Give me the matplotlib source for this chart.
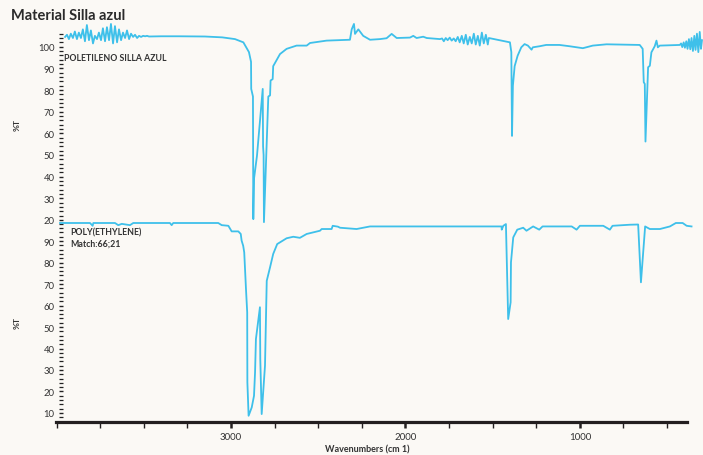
import matplotlib.pyplot as plt
from matplotlib.ticker import MultipleLocator, FixedLocator

plt.rcParams['font.family'] = ['Lato', 'DejaVu Sans']

# sample spectrum (POLETILENO SILLA AZUL), wavenumber vs %T
sample_wn = [3951, 3940, 3929, 3918, 3906, 3895, 3883, 3872, 3860, 3849, 3837, 3826,
             3814, 3803, 3791, 3780, 3768, 3757, 3745, 3734, 3722, 3711, 3699, 3688,
             3676, 3665, 3653, 3642, 3630, 3619, 3607, 3596, 3584, 3573, 3561, 3550,
             3538, 3527, 3515, 3504, 3492, 3481, 3470,
             3400, 3300, 3150, 3050, 2977, 2929, 2897, 2885, 2884, 2874, 2872, 2868,
             2851, 2818, 2816, 2813, 2811, 2786, 2776, 2773, 2761, 2758, 2719, 2681,
             2624, 2566, 2547, 2452, 2318, 2308, 2295, 2289, 2270, 2242, 2203, 2146,
             2108, 2079, 2050, 1974, 1955, 1936, 1898, 1878, 1802,
             1790, 1780, 1769, 1758, 1746, 1735, 1723, 1712, 1700, 1689, 1677, 1666,
             1654, 1643, 1631, 1620, 1608, 1597, 1585, 1574, 1562, 1551, 1539, 1528,
             1522, 1401, 1393, 1389, 1384, 1374, 1357, 1336, 1317, 1298, 1277, 1270,
             1231, 1193, 1117, 1059, 983, 926, 847, 657, 640, 634, 628, 624, 609, 599,
             590, 571, 561, 553, 542, 427,
             420, 413, 405, 398, 390, 383, 375, 367, 360, 352, 344, 337, 329, 321,
             313, 306, 300]
sample_t = [104.5, 105.5, 103.5, 106, 104, 107, 103.5, 106.5, 104, 108, 102.5, 110,
            103, 107.5, 101.5, 105, 103.5, 106.5, 103, 108.5, 102.5, 109, 103, 110.5,
            101.5, 109.5, 102, 108, 103, 106.5, 104, 107.5, 103.5, 106, 104.5, 105.5,
            104, 105, 104.5, 105, 104.8, 105, 104.7,
            104.8, 104.8, 104.7, 104.3, 103.5, 102, 97.5, 93, 80.5, 77, 20.4, 39,
            49.6, 80.5, 54, 50, 19, 77, 77.5, 84.4, 85, 91, 96.6, 99,
            100.5, 100.5, 101.7, 102.8, 103.2, 108, 110.5, 105.9, 108, 105, 103.2, 103.5,
            103.9, 105.9, 104, 104.2, 105, 104, 104.6, 104, 103.5,
            103.8, 102.5, 104, 103, 104.2, 102.8, 103.8, 102.5, 104.5, 102, 105, 101.5,
            105.5, 101, 104.5, 101.5, 106, 101, 105, 100.5, 106.5, 101.5, 105.5, 101,
            104, 102, 97.5, 58.8, 82, 91, 95.8, 99.7, 101.2, 100.5, 98.6, 99.7,
            100.2, 100.8, 100.8, 100.2, 99.3, 100.5, 101.1, 100.8, 99, 83.6, 82.8, 56.2, 90.5, 91.2,
            97.4, 100.2, 102.8, 99.7, 100.5, 100.8,
            101.5, 99.8, 102, 99.5, 102.5, 99, 103.5, 98.8, 104, 98, 105, 98.5, 106, 97.5,
            106.8, 99, 103]

# library match (POLY(ETHYLENE))
ref_wn = [3980, 3808, 3793, 3789, 3665, 3646, 3626, 3579, 3560, 3350, 3340, 3331,
          3073, 3053, 3015, 2996, 2958, 2944, 2939, 2930, 2924, 2914, 2907, 2906,
          2899, 2881, 2868, 2862, 2857, 2834, 2832, 2824, 2805, 2795, 2776, 2758,
          2735, 2681, 2643, 2605, 2566, 2490, 2480, 2423, 2417, 2387, 2375, 2280,
          2203, 2146, 1449, 1448, 1439, 1424, 1411, 1397, 1395, 1382, 1359, 1325,
          1306, 1268, 1233, 1214, 1047, 1019, 1000, 866, 828, 813, 713, 666, 650,
          626, 599, 541, 484, 450, 411, 388, 360]
ref_t = [98.4, 98.4, 97.1, 98.4, 98.4, 97.4, 98, 97.4, 98.4, 98.4, 97.4, 98.4,
         98.4, 97.4, 97.1, 94.5, 94.5, 93.3, 90.2, 87.8, 84.7, 67.7, 56.8, 24.3,
         8.7, 12.6, 18, 28.9, 44.4, 59.2, 35.1, 9.5, 32, 71.5, 77.8, 84,
         88.6, 91.3, 92, 91.5, 93.3, 94.8, 95.6, 95.6, 97.1, 96.7, 96.2, 95.6,
         96.8, 96.8, 96.8, 95.3, 97.1, 97.9, 53.7, 61.5, 80.1, 91.7, 95.3, 96.2,
         94.8, 96.8, 95.3, 96.8, 96.8, 95.3, 97.1, 97.1, 95.3, 97.1, 97.6, 97.7, 70.8,
         96.8, 95.6, 95.6, 96.8, 98.4, 98.4, 97.1, 96.8]

bg = '#fbf9f5'
line_col = '#3ec0ea'
text_col = '#333333'

W, H = 703, 456
fig = plt.figure(figsize=(W / 100, H / 100), dpi=100, facecolor=bg)

ax_top = fig.add_axes([56 / W, 1 - 224 / H, 631 / W, 193 / H])
ax_bot = fig.add_axes([56 / W, 1 - 423 / H, 631 / W, 199 / H], sharex=ax_top)

ax_top.plot(sample_wn, sample_t, color=line_col, lw=1.3, clip_on=False)
ax_bot.plot(ref_wn, ref_t, color=line_col, lw=1.3, clip_on=False)

ax_top.set_xlim(4003, 386)
ax_top.set_ylim(18.6, 107.7)
ax_bot.set_ylim(5.8, 98.4)

for ax, majors in [(ax_top, range(20, 101, 10)), (ax_bot, range(10, 91, 10))]:
    ax.set_facecolor('none')
    for s in ['top', 'right']:
        ax.spines[s].set_visible(False)
    ax.spines['left'].set_position(('axes', 5 / 631))
    ax.spines['left'].set_linewidth(0)
    ax.yaxis.set_major_locator(FixedLocator(list(majors)))
    ax.yaxis.set_minor_locator(MultipleLocator(2))
    ax.tick_params(axis='y', which='major', direction='inout', length=3.2, width=1,
                   color='#222222', labelsize=6.8, labelcolor=text_col, pad=3)
    ax.tick_params(axis='y', which='minor', direction='inout', length=3, width=0.9,
                   color='#222222')

ax_top.spines['bottom'].set_visible(False)
ax_top.tick_params(axis='x', which='both', bottom=False, labelbottom=False)

ax_bot.spines['bottom'].set_linewidth(2.3)
ax_bot.spines['bottom'].set_color('#231f20')
ax_bot.xaxis.set_major_locator(FixedLocator([3000, 2000, 1000]))
ax_bot.xaxis.set_minor_locator(MultipleLocator(250))
ax_bot.tick_params(axis='x', which='major', direction='out', length=4, width=1.8,
                   color='#231f20', labelsize=7, labelcolor=text_col, pad=3)
ax_bot.tick_params(axis='x', which='minor', direction='out', length=4, width=1,
                   color='#231f20')


def ftext(px, py, s, **kw):
    fig.text(px / W, 1 - py / H, s, **kw)


ftext(11, 19.5, 'Material Silla azul', fontsize=10.5, fontweight='bold',
      color='#2b2b2b', va='baseline')
ftext(64, 61, 'POLETILENO SILLA AZUL', fontsize=6.3, fontweight='bold',
      color=text_col, va='baseline')
ftext(70, 235.5, 'POLY(ETHYLENE)', fontsize=6.3, fontweight='bold',
      color=text_col, va='baseline')
ftext(70, 246.7, 'Match:66;21', fontsize=6.3, fontweight='bold',
      color=text_col, va='baseline')
ftext(17, 125, '%T', fontsize=6, fontweight='bold', color=text_col,
      rotation=90, ha='center', va='center')
ftext(17, 323, '%T', fontsize=6, fontweight='bold', color=text_col,
      rotation=90, ha='center', va='center')
ftext(367, 452, 'Wavenumbers (cm 1)', fontsize=6.5, fontweight='bold',
      color=text_col, ha='center', va='baseline')

fig.savefig('out.png', dpi=100, facecolor=bg)
